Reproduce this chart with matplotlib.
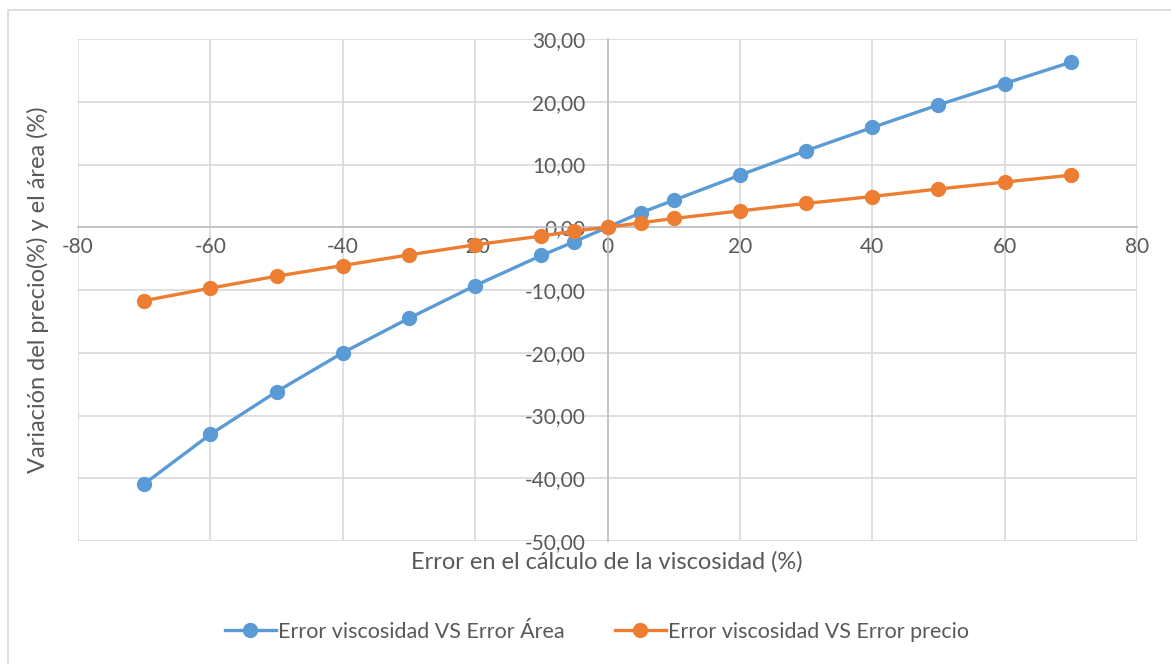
import numpy as np
import matplotlib.pyplot as plt
from matplotlib.ticker import FuncFormatter, MultipleLocator
from matplotlib.patches import Rectangle

# datos
error_visc = [-70, -60, -50, -40, -30, -20, -10, -5, 0, 5, 10, 20, 30, 40, 50, 60, 70]
error_area = [-40.9, -33.0, -26.2, -20.0, -14.5, -9.3, -4.5, -2.3, 0.0, 2.3, 4.3,
              8.3, 12.2, 15.9, 19.5, 22.9, 26.3]
error_precio = [-11.7, -9.7, -7.8, -6.1, -4.4, -2.8, -1.4, -0.6, 0.0, 0.7, 1.4,
                2.6, 3.8, 4.9, 6.1, 7.2, 8.3]

blue = '#5B9BD5'
orange = '#ED7D31'
txt = '#595959'

plt.rcParams['font.family'] = ['Lato', 'DejaVu Sans']

fig = plt.figure(figsize=(11.71, 6.64), dpi=100)
fig.patches.append(Rectangle((8 / 1171, -0.1), 1.2, 1.1 - 10 / 664,
                             transform=fig.transFigure, fill=False,
                             edgecolor='#d9d9d9', linewidth=1.2))
ax = fig.add_axes([78 / 1171, 123 / 664, 1059 / 1171, 502 / 664])

ax.plot(error_visc, error_area, color=blue, lw=2.4, marker='o', ms=10,
        label='Error viscosidad VS Error Área', zorder=3)
ax.plot(error_visc, error_precio, color=orange, lw=2.4, marker='o', ms=10,
        label='Error viscosidad VS Error precio', zorder=3)

ax.set_xlim(-80, 80)
ax.set_ylim(-50, 30)
ax.xaxis.set_major_locator(MultipleLocator(20))
ax.yaxis.set_major_locator(MultipleLocator(10))
ax.yaxis.set_major_formatter(FuncFormatter(lambda v, p: f'{v:.2f}'.replace('.', ',')))
ax.xaxis.set_major_formatter(FuncFormatter(lambda v, p: f'{v:.0f}'))

ax.grid(True, color='#d9d9d9', lw=1.2, zorder=0)
for s in ['top', 'right']:
    ax.spines[s].set_visible(False)
ax.spines['left'].set_position(('data', 0))
ax.spines['bottom'].set_position(('data', 0))
ax.spines['left'].set_color('#bfbfbf')
ax.spines['bottom'].set_color('#bfbfbf')
ax.spines['left'].set_linewidth(1.2)
ax.spines['bottom'].set_linewidth(1.2)
ax.tick_params(axis='y', length=0, pad=16, labelsize=15, labelcolor=txt)
ax.tick_params(axis='x', length=0, pad=7, labelsize=15, labelcolor=txt)

fig.text(38 / 1171, 1 - 290 / 664, 'Variación del precio(%) y el área (%)',
         rotation=90, ha='center', va='center', fontsize=17, color=txt)
fig.text(607 / 1171, 1 - 562 / 664, 'Error en el cálculo de la viscosidad (%)',
         ha='center', va='center', fontsize=17, color=txt)

fig.legend(loc='center', bbox_to_anchor=(597 / 1171, 1 - 632 / 664), ncol=2,
           frameon=False, fontsize=15.5, labelcolor=txt, handlelength=2.4,
           handletextpad=0.1, columnspacing=2.3)

fig.savefig('out.png', dpi=100)
